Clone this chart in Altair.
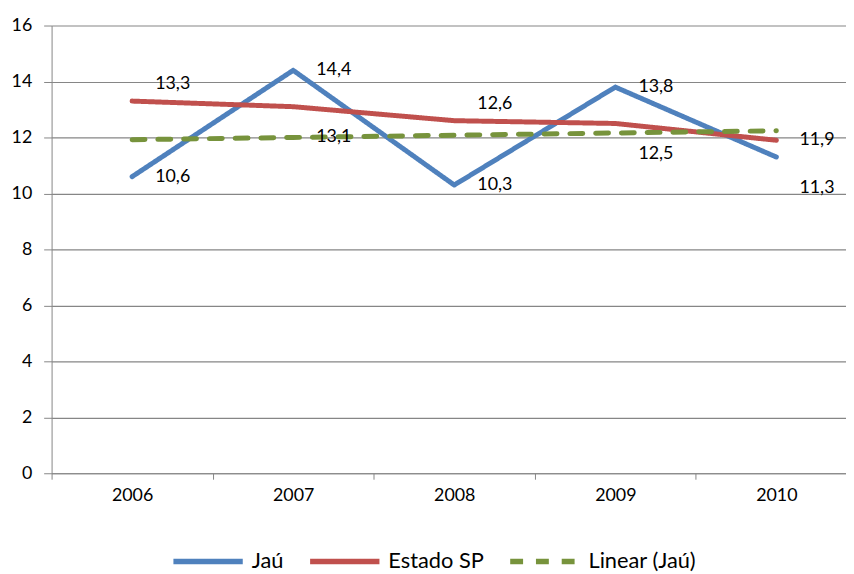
import altair as alt
import pandas as pd

years = [2006, 2007, 2008, 2009, 2010]
jau = [10.6, 14.4, 10.3, 13.8, 11.3]
estado_sp = [13.3, 13.1, 12.6, 12.5, 11.9]
linear_jau = [11.92, 12.00, 12.08, 12.16, 12.24]

series_names = ["Jaú", "Estado SP", "Linear (Jaú)"]
colors = ["#4F81BD", "#C0504D", "#77933C"]

# label placement per point (data labels only for Jaú and Estado SP)
jau_label_pos = ["right", "right", "right", "right", "below"]
sp_label_pos = ["above", "below", "above", "below", "right"]

rows = []
for i, y in enumerate(years):
    rows.append({"year": y, "series": "Jaú", "value": jau[i], "pos": jau_label_pos[i]})
    rows.append({"year": y, "series": "Estado SP", "value": estado_sp[i], "pos": sp_label_pos[i]})
    rows.append({"year": y, "series": "Linear (Jaú)", "value": linear_jau[i], "pos": "none"})
df = pd.DataFrame(rows)

FONT = "Lato"
GRID = "#868686"

x_scale = alt.Scale(domain=[2005.5, 2005.5 + 802 / 162.6], nice=False, zero=False)
y_scale = alt.Scale(domain=[0, 16], nice=False)

x_axis = alt.Axis(
    values=[2005.5, 2006, 2006.5, 2007, 2007.5, 2008, 2008.5, 2009, 2009.5, 2010],
    labelExpr="datum.value % 1 == 0 ? format(datum.value, 'd') : ''",
    tickOpacity={"condition": {"test": "datum.value % 1 == 0", "value": 0}, "value": 1},
    grid=False, title=None, tickSize=6, tickColor=GRID, domainColor=GRID,
    labelFontSize=18, labelFont=FONT, labelColor="black", labelPadding=8,
)
y_axis = alt.Axis(
    values=list(range(0, 17, 2)), title=None, grid=True, gridColor=GRID,
    gridWidth=1.2, domainColor=GRID, tickColor=GRID, tickSize=8,
    labelFontSize=18, labelFont=FONT, labelColor="black", labelPadding=12,
)

base = alt.Chart(df).encode(
    x=alt.X("year:Q", scale=x_scale, axis=x_axis),
    y=alt.Y("value:Q", scale=y_scale, axis=y_axis),
)

legend = alt.Legend(
    title=None, orient="none", direction="horizontal", legendX=120, legendY=503,
    symbolType="stroke", symbolSize=4900, symbolStrokeWidth=5.5,
    labelFontSize=22, labelFont=FONT, labelColor="black", labelOffset=6,
    columnPadding=15,
)

lines = base.mark_line(strokeWidth=5, strokeCap="round", strokeJoin="round", clip=True).encode(
    color=alt.Color("series:N", scale=alt.Scale(domain=series_names, range=colors), legend=legend),
    strokeDash=alt.StrokeDash("series:N", scale=alt.Scale(domain=series_names, range=[[1, 0], [1, 0], [13, 13]]), legend=legend),
)

labels = base.transform_calculate(
    lab="replace(format(datum.value, '.1f'), '.', ',')"
)

def label_layer(pos, dx, dy):
    return labels.transform_filter(alt.datum.pos == pos).mark_text(
        dx=dx, dy=dy, fontSize=18, font=FONT, color="black", align="center", baseline="middle"
    ).encode(text="lab:N")

chart = alt.layer(
    lines,
    label_layer("right", 41, 0),
    label_layer("above", 41, -17),
    label_layer("below", 41, 31),
).properties(
    width=802, height=452,
    padding={"left": 44, "top": 15, "right": 0, "bottom": 99},
    autosize=alt.AutoSizeParams(type="none"),
).configure_view(stroke=None)

chart.save("out.html", embed_options={"renderer": "svg", "actions": False})
